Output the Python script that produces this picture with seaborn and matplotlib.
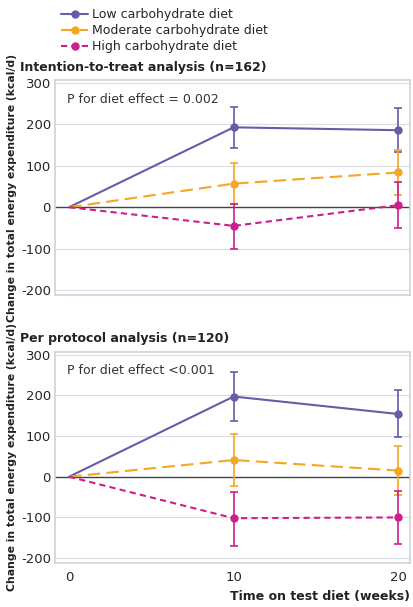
import numpy as np
import pandas as pd
import matplotlib.pyplot as plt
import seaborn as sns
from matplotlib.lines import Line2D

sns.set_theme(style="white")
plt.rcParams['font.family'] = ['DejaVu Sans']
plt.rcParams['axes.unicode_minus'] = False

weeks = [0, 10, 20]
diets = ["Low carbohydrate diet", "Moderate carbohydrate diet", "High carbohydrate diet"]
colors = ["#6b5aa8", "#f5a623", "#cc1f8c"]
dashes = ["-", (0, (6, 3)), (0, (3, 2))]

# intention-to-treat: mean, lower, upper
itt_mean = [[0, 193, 186], [0, 57, 84], [0, -45, 5]]
itt_lo = [[0, 143, 133], [0, 8, 30], [0, -100, -50]]
itt_hi = [[0, 243, 240], [0, 108, 138], [0, 8, 60]]
# per protocol
pp_mean = [[0, 197, 154], [0, 41, 15], [0, -102, -100]]
pp_lo = [[0, 136, 97], [0, -23, -45], [0, -170, -165]]
pp_hi = [[0, 257, 213], [0, 105, 76], [0, -37, -35]]

panels = [
    ("Intention-to-treat analysis (n=162)", "P for diet effect = 0.002", itt_mean, itt_lo, itt_hi),
    ("Per protocol analysis (n=120)", "P for diet effect <0.001", pp_mean, pp_lo, pp_hi),
]

fig = plt.figure(figsize=(4.14, 6.07), dpi=100)
rects = [[0.133, 0.514, 0.857, 0.354], [0.133, 0.0725, 0.857, 0.348]]
for i, (title, ptxt, m, lo, hi) in enumerate(panels):
    ax = fig.add_axes(rects[i])
    for j, d in enumerate(diets):
        df = pd.DataFrame({"week": weeks, "val": m[j]})
        sns.lineplot(data=df, x="week", y="val", ax=ax, color=colors[j], lw=1.5,
                     linestyle=dashes[j], legend=False, zorder=3)
        err = [np.array(m[j][1:]) - np.array(lo[j][1:]), np.array(hi[j][1:]) - np.array(m[j][1:])]
        ax.errorbar(weeks[1:], m[j][1:], yerr=err, fmt="o", color=colors[j], ms=5,
                    capsize=3, elinewidth=1.2, capthick=1.2, zorder=3)
    ax.set_xlim(-0.85, 20.7)
    ax.set_ylim(-212, 307)
    ax.set_yticks([-200, -100, 0, 100, 200, 300])
    ax.yaxis.grid(True, color="#d9dde6", lw=0.8, zorder=0)
    ax.set_axisbelow(True)
    ax.axhline(0, color="#444444", lw=1, zorder=2)
    ax.set_xticks([0, 5, 10, 15, 20] if i == 0 else [0, 10, 20])
    ax.tick_params(axis="x", length=4, color="#cccccc", labelsize=9.5, pad=2)
    ax.tick_params(axis="y", length=0, labelsize=9.5, pad=3)
    if i == 0:
        ax.set_xticklabels([])
    for s in ax.spines.values():
        s.set_color("#d0d4dc")
    ax.set_xlabel("")
    ax.set_ylabel("Change in total energy expenditure (kcal/d)", fontsize=7.8,
                  fontweight="bold", color="#222222", labelpad=3)
    ax.text(-0.1, 1.03, title, transform=ax.transAxes, fontsize=9, fontweight="bold",
            ha="left", va="bottom", color="#222222")
    ax.text(0.035, 0.94, ptxt, transform=ax.transAxes, fontsize=9, ha="left", va="top",
            color="#333333")
    if i == 1:
        ax.text(1.0, -0.13, "Time on test diet (weeks)", transform=ax.transAxes,
                fontsize=9, fontweight="bold", ha="right", va="top", color="#222222")

leg_h = [Line2D([0], [0], color=colors[j], ls=dashes[j], marker="o", ms=5, lw=1.5) for j in range(3)]
fig.legend(leg_h, diets, loc="upper left", bbox_to_anchor=(0.12, 1.005), frameon=False,
           fontsize=9, handlelength=2.2, labelspacing=0.25, handletextpad=0.3)

fig.savefig("out.png", dpi=100)
